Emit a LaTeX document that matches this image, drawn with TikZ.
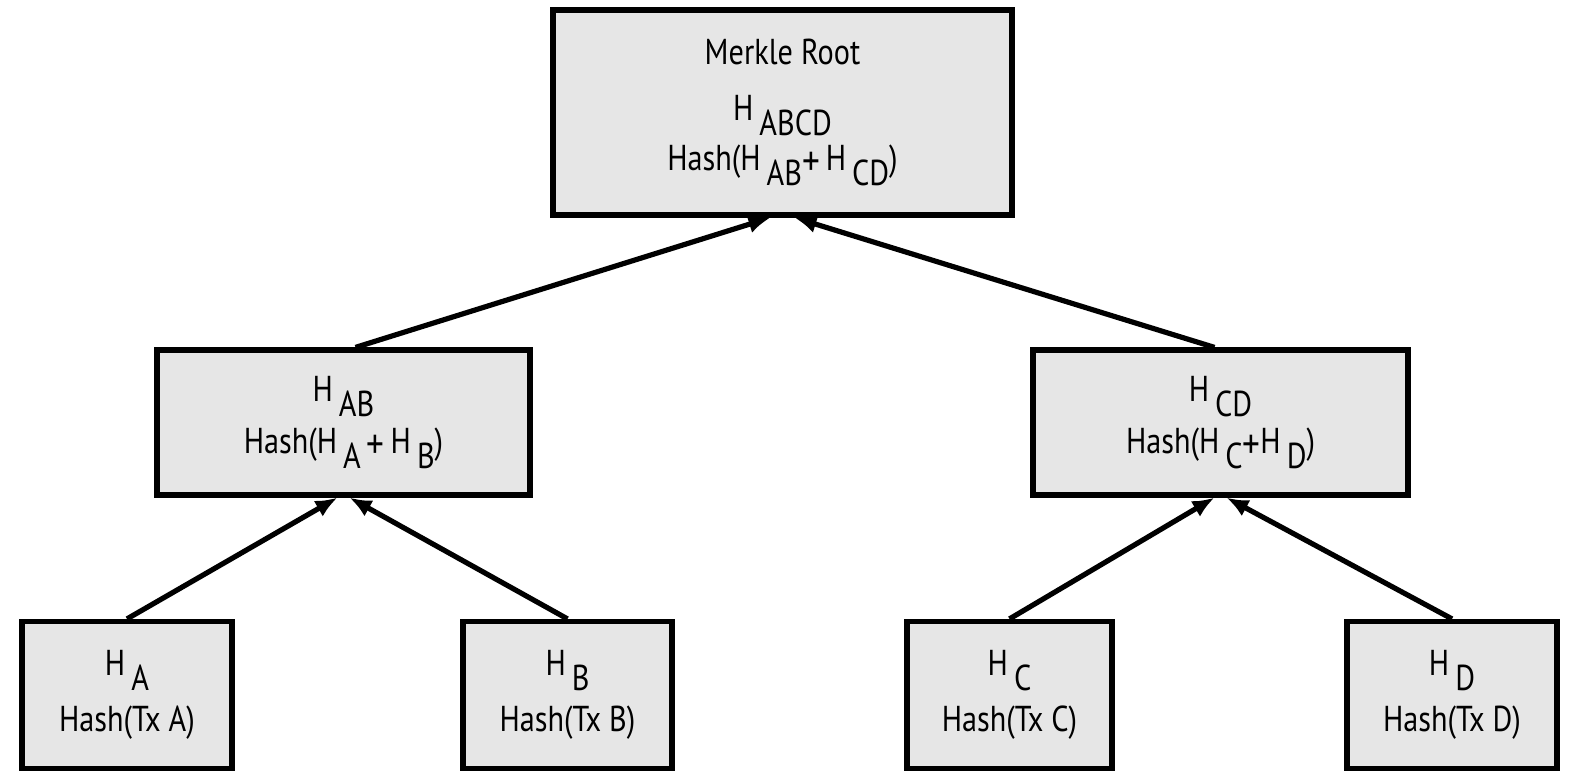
\documentclass[tikz,border=0pt]{standalone}
\usepackage{fontspec}
\setmainfont{PT Sans}[FakeStretch=0.84]
\usetikzlibrary{arrows.meta,positioning}
\definecolor{boxgray}{RGB}{230,230,230}
\newcommand{\hsub}[1]{H\,\raisebox{-0.4em}{#1}}
\newcommand{\hplus}{\raisebox{-0.12em}{\fontsize{21}{21}\selectfont+}}
\tikzset{
  hashbox/.style={draw=black, fill=boxgray, line width=2.6pt, align=center, inner sep=0pt,
    font=\fontsize{18}{23}\selectfont},
  hasharrow/.style={-{Latex[length=11pt,width=9pt]}, line width=2.6pt}
}

\begin{document}
\begin{tikzpicture}[x=0.5pt,y=-0.5pt]
  \useasboundingbox (0,0) rectangle (1572,780);

  % root of the tree
  \node[hashbox, minimum width=229.5pt, minimum height=102.5pt] (root) at (782.5,112.5)
    {Merkle Root\\[5pt]\hsub{ABCD}\\[2pt]Hash(\hsub{AB}\hplus\,\hsub{CD})};

  % middle level
  \node[hashbox, minimum width=186.5pt, minimum height=72.5pt] (hab) at (343.5,422.5)
    {\hsub{AB}\\[3pt]Hash(\hsub{A}\,\hplus\,\hsub{B})};
  \node[hashbox, minimum width=187.5pt, minimum height=72.5pt] (hcd) at (1220.5,422.5)
    {\hsub{CD}\\[3pt]Hash(\hsub{C}\hplus\hsub{D})};

  % leaves
  \node[hashbox, minimum width=105pt, minimum height=73.5pt] (ha) at (127,695)
    {\hsub{A}\\[5pt]Hash(Tx A)};
  \node[hashbox, minimum width=104.5pt, minimum height=73.5pt] (hb) at (567.5,695)
    {\hsub{B}\\[5pt]Hash(Tx B)};
  \node[hashbox, minimum width=102.5pt, minimum height=73.5pt] (hc) at (1009.5,695)
    {\hsub{C}\\[5pt]Hash(Tx C)};
  \node[hashbox, minimum width=105pt, minimum height=73.5pt] (hd) at (1452,695)
    {\hsub{D}\\[5pt]Hash(Tx D)};

  \draw[hasharrow] (ha.north) -- ([xshift=-3pt]hab.south);
  \draw[hasharrow] (hb.north) -- ([xshift=3pt]hab.south);
  \draw[hasharrow] (hc.north) -- ([xshift=-3pt]hcd.south);
  \draw[hasharrow] (hd.north) -- ([xshift=3pt]hcd.south);
  \draw[hasharrow] ([xshift=6pt]hab.north) -- ([xshift=-6pt]root.south);
  \draw[hasharrow] ([xshift=-3pt]hcd.north) -- ([xshift=6pt]root.south);
\end{tikzpicture}
\end{document}
